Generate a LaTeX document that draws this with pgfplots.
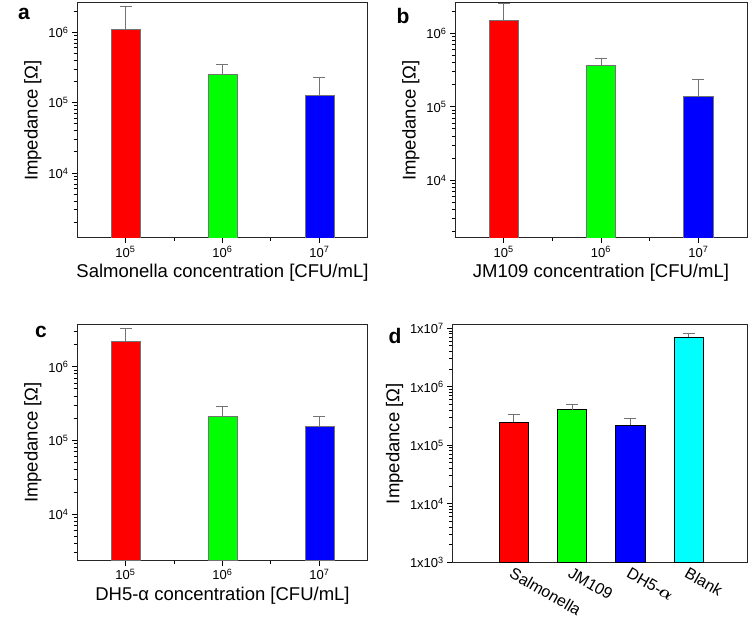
\documentclass[border=0pt]{standalone}
\usepackage{amsmath}
\usepackage{fontspec}
\setmainfont{Liberation Sans}
\usepackage{pgfplots}
\pgfplotsset{compat=1.18}

\definecolor{edgegray}{gray}{0.45}
\definecolor{aqua}{rgb}{0,1,1}
\definecolor{pred}{rgb}{1,0,0}
\definecolor{pgreen}{rgb}{0,1,0}
\definecolor{pblue}{rgb}{0,0,1}

\pgfplotsset{
  every axis/.append style={
    scale only axis,
    axis line style={line width=1pt, black!85},
    tick align=outside, xtick pos=bottom, ytick pos=left,
    major tick length=5pt, minor tick length=3pt,
    every tick/.append style={black, line width=1pt},
    ytick style={black, line width=1pt},
    label style={font=\fontsize{18.5}{22}\selectfont},
    tick label style={font=\fontsize{13}{15}\selectfont},
    ylabel={Impedance [Ω]},
  },
  every axis plot/.append style={
    ybar, bar shift=0pt, line width=0.8pt,
    error bars/y dir=plus, error bars/y explicit,
    error bars/error bar style={edgegray, line width=0.8pt},
    error bars/error mark options={rotate=90, mark size=6pt, edgegray, line width=0.8pt}},
}

\begin{document}
\begin{tikzpicture}
\useasboundingbox (0,0) rectangle (750pt,621pt);

% a
\begin{axis}[ymode=log, log origin=infty, anchor=south west,
  at={(77pt,383pt)}, width=291pt, height=235pt,
  xmin=0.5, xmax=3.5, xtick={1,2,3}, minor xtick={1.5,2.5},
  xticklabels={10\textsuperscript{5},10\textsuperscript{6},10\textsuperscript{7}},
  ytick={1e4,1e5,1e6},
  yticklabels={10\textsuperscript{4},10\textsuperscript{5},10\textsuperscript{6}},
  ymin=1.2e3, ymax=2.6e6, bar width=0.3,
  minor ytick={2e3,3e3,4e3,5e3,6e3,7e3,8e3,9e3,2e4,3e4,4e4,5e4,6e4,7e4,8e4,9e4,2e5,3e5,4e5,5e5,6e5,7e5,8e5,9e5,2e6},
  xlabel={Salmonella concentration [CFU/mL]}]
\addplot[fill=pred, draw=edgegray] coordinates {(1,1.1e6) +- (0,1.25e6)};
\addplot[fill=pgreen, draw=edgegray] coordinates {(2,2.5e5) +- (0,0.96e5)};
\addplot[fill=pblue, draw=edgegray] coordinates {(3,1.25e5) +- (0,1.06e5)};
\end{axis}

% b
\begin{axis}[ymode=log, log origin=infty, anchor=south west,
  at={(455pt,383pt)}, width=292pt, height=235pt,
  xmin=0.5, xmax=3.5, xtick={1,2,3}, minor xtick={1.5,2.5},
  xticklabels={10\textsuperscript{5},10\textsuperscript{6},10\textsuperscript{7}},
  ytick={1e4,1e5,1e6},
  yticklabels={10\textsuperscript{4},10\textsuperscript{5},10\textsuperscript{6}},
  ymin=1.63e3, ymax=2.6e6, bar width=0.3,
  minor ytick={2e3,3e3,4e3,5e3,6e3,7e3,8e3,9e3,2e4,3e4,4e4,5e4,6e4,7e4,8e4,9e4,2e5,3e5,4e5,5e5,6e5,7e5,8e5,9e5,2e6},
  xlabel={JM109 concentration [CFU/mL]}]
\addplot[fill=pred, draw=edgegray] coordinates {(1,1.5e6) +- (0,1.04e6)};
\addplot[fill=pgreen, draw=edgegray] coordinates {(2,3.7e5) +- (0,0.9e5)};
\addplot[fill=pblue, draw=edgegray] coordinates {(3,1.4e5) +- (0,0.93e5)};
\end{axis}

% c
\begin{axis}[ymode=log, log origin=infty, anchor=south west,
  at={(77pt,60.3pt)}, width=291pt, height=236.4pt,
  xmin=0.5, xmax=3.5, xtick={1,2,3}, minor xtick={1.5,2.5},
  xticklabels={10\textsuperscript{5},10\textsuperscript{6},10\textsuperscript{7}},
  ytick={1e4,1e5,1e6},
  yticklabels={10\textsuperscript{4},10\textsuperscript{5},10\textsuperscript{6}},
  ymin=2.35e3, ymax=3.76e6, bar width=0.3,
  minor ytick={3e3,4e3,5e3,6e3,7e3,8e3,9e3,2e4,3e4,4e4,5e4,6e4,7e4,8e4,9e4,2e5,3e5,4e5,5e5,6e5,7e5,8e5,9e5,2e6,3e6},
  xlabel={DH5-α concentration [CFU/mL]}]
\addplot[fill=pred, draw=edgegray] coordinates {(1,2.23e6) +- (0,1.04e6)};
\addplot[fill=pgreen, draw=edgegray] coordinates {(2,2.15e5) +- (0,0.78e5)};
\addplot[fill=pblue, draw=edgegray] coordinates {(3,1.54e5) +- (0,0.61e5)};
\end{axis}

% d
\begin{axis}[ymode=log, log origin=infty, anchor=south west,
  at={(452.3pt,58.7pt)}, width=295pt, height=237.3pt,
  ymin=1e3, ymax=1.14e7, bar width=0.5,
  xmin=-0.05, xmax=5, xtick={1,2,3,4},
  xticklabels={Salmonella, JM109, DH5-$\boldsymbol{\alpha}$, Blank},
  x tick label style={font=\fontsize{16}{19}\selectfont, rotate=-30, anchor=north west, inner sep=0pt, yshift=1pt},
  xtick style={draw=none},
  ytick={1e3,1e4,1e5,1e6,1e7},
  yticklabels={1x10\textsuperscript{3},1x10\textsuperscript{4},1x10\textsuperscript{5},1x10\textsuperscript{6},1x10\textsuperscript{7}},
  minor ytick={2e3,3e3,4e3,5e3,6e3,7e3,8e3,9e3,2e4,3e4,4e4,5e4,6e4,7e4,8e4,9e4,2e5,3e5,4e5,5e5,6e5,7e5,8e5,9e5,2e6,3e6,4e6,5e6,6e6,7e6,8e6,9e6}]
\addplot[fill=pred, draw=black] coordinates {(1,2.5e5) +- (0,0.93e5)};
\addplot[fill=pgreen, draw=black] coordinates {(2,4.06e5) +- (0,0.88e5)};
\addplot[fill=pblue, draw=black] coordinates {(3,2.2e5) +- (0,0.65e5)};
\addplot[fill=aqua, draw=black] coordinates {(4,7.0e6) +- (0,1.3e6)};
\end{axis}

\node[font=\bfseries\fontsize{21}{24}\selectfont] at (24pt,607pt) {a};
\node[font=\bfseries\fontsize{21}{24}\selectfont] at (403pt,605pt) {b};
\node[font=\bfseries\fontsize{21}{24}\selectfont] at (41pt,289pt) {c};
\node[font=\bfseries\fontsize{21}{24}\selectfont] at (395pt,285pt) {d};
\end{tikzpicture}
\end{document}
